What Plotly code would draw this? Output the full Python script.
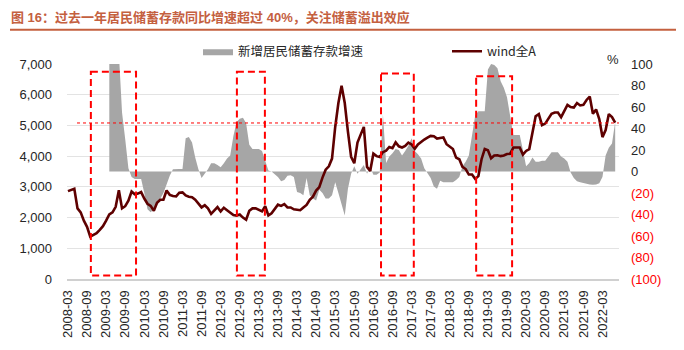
import plotly.graph_objects as go
import pandas as pd

# ---------------- data ----------------
months = [d.strftime("%Y-%m") for d in pd.date_range("2008-03-01", periods=173, freq="MS")]
tick_labels = months[::6]

wind_a = [
    2860, 2900, 2940, 2300, 2170, 1900, 1700, 1380, 1430, 1490,
    1600, 1720, 1900, 2100, 2170, 2350, 2890, 2300, 2370, 2550,
    2850, 2760, 2780, 2830, 2620, 2450, 2380, 2220, 2480, 2580,
    2580, 2880, 2740, 2700, 2690, 2810, 2820, 2720, 2680, 2660,
    2580, 2450, 2330, 2400, 2300, 2120, 2220, 2340, 2200, 2320,
    2240, 2170, 2080, 2065, 2100, 2000, 1930, 2220, 2300, 2300,
    2240, 2200, 2370, 2070, 2140, 2270, 2420, 2380, 2440, 2330,
    2330, 2270, 2250, 2240, 2330, 2410, 2580, 2680, 2880, 2990,
    3300, 3560, 3670, 3920, 4950, 5730, 6290, 5730, 4800, 3980,
    3770, 4440, 4700, 4950, 3650, 3520, 4080, 4000, 3970, 4130,
    4180, 4300, 4260, 4450, 4320, 4280, 4330, 4440, 4380, 4240,
    4380, 4470, 4540, 4600, 4660, 4650, 4570, 4590, 4610, 4390,
    4300, 4230, 3950, 3900, 3650, 3580, 3400, 3400, 3260, 3350,
    3900, 4230, 4190, 3930, 4020, 4030, 4000, 4020, 4070, 4080,
    4280, 4290, 4280, 4050, 4170, 4230, 4750, 5300, 5370, 5010,
    5060, 5210, 5380, 5420, 5420, 5270, 5480, 5670, 5600, 5580,
    5730, 5650, 5670, 5830, 5940, 5380, 5520, 5210, 4620, 4850,
    5370, 5270, 5090,
]

deposit_growth = [None] * 13 + [
    150, 140, 130, 110, 55, 30, 3, -5, -7, -7,
    -7, -20, -35, -38, -35, -31, -26, -20, -12, -4,
    2, 2.4, 2.4, 2.4, 31, 32, 27, 13, 2, -6,
    -2, 2, 7.7, 7.7, 6, 4, 7.7, 12, 15, 33,
    46, 49, 50, 45, 25, 21, 21, 21, 19, 10,
    1, 0, -2.6, -5, -9, -8, -4, -3.5, -5, -19,
    -20, -22, -6, -22, -25, -27, -17, -20, -25, -25,
    -22, -10, -20, -30, -41, -16, -2, 5, -2, 2,
    6, -2, 4, -3, -3, -1, 53, 8, 14, 17,
    21, 20, 15, 19, 24, 31, 19, 16, 12, 3,
    -1, -6, -14, -16, -8.5, -10, -10, -10, -10, -8,
    -5, 5, 9, 15, 33, 52, 56, 56, 56, 95,
    100, 99, 96, 84, 78, 69, 50, 34, 34, 34,
    20, 5, 8, 13, 9, 9, 10, 10, 14, 18,
    18, 18, 14, 12, 9, -1, -6, -9, -10, -11,
    -11.5, -12, -12.4, -12, -11, -5, 15, 22, 26, 46,
]

right_ticks = [100, 80, 60, 40, 20, 0, -20, -40, -60, -80, -100]
right_tick_text = ["100", "80", "60", "40", "20", "0",
                   "<span style='color:#FF0000'>(20)</span>",
                   "<span style='color:#FF0000'>(40)</span>",
                   "<span style='color:#FF0000'>(60)</span>",
                   "<span style='color:#FF0000'>(80)</span>",
                   "<span style='color:#FF0000'>(100)</span>"]
left_ticks = list(range(0, 7001, 1000))

title_text = "图 16：过去一年居民储蓄存款同比增速超过 40%，关注储蓄溢出效应"
series_area_name = "新增居民储蓄存款增速"
series_line_name = "wind全A"

# highlight windows (start index, end index in months)
windows = [(7.2, 21.4), (53.1, 61.9), (98.4, 108.7), (128.3, 139.6)]
window_tops = [6750, 6750, 6690, 6600]
ref_level = 5080

# ---------------- figure ----------------
FONT = "Liberation Sans, Arial, Noto Sans CJK SC, sans-serif"
TITLE_COLOR = "#C4603F"
W, H = 684, 350
L, R, T, B = 67, 65, 64, 60
pw, ph = W - L - R, H - T - B


def px_x(x):
    return (x - L) / pw


def px_y(y):
    return (H - B - y) / ph


fig = go.Figure()
# area on the base axis (y, right side %), line on overlaying axis (y2, left side)
fig.add_trace(go.Scatter(
    x=months, y=deposit_growth, name=series_area_name, yaxis="y",
    mode="lines", line=dict(width=0, color="#A6A6A6"),
    fill="tozeroy", fillcolor="#A6A6A6", legend="legend",
))
fig.add_trace(go.Scatter(
    x=months, y=wind_a, name=series_line_name, yaxis="y2",
    mode="lines", line=dict(width=2.6, color="#5E0000"), legend="legend2",
))

shapes = []
for (a, b), top in zip(windows, window_tops):
    shapes.append(dict(type="rect", xref="x", yref="y2", x0=a, x1=b, y0=top, y1=110,
                       line=dict(color="#FF0000", width=2, dash="7px,4px"),
                       fillcolor="rgba(0,0,0,0)", layer="above"))
shapes.append(dict(type="line", xref="paper", yref="y2", x0=px_x(77), x1=1,
                   y0=ref_level, y1=ref_level,
                   line=dict(color="#FF0000", width=1, dash="3px,3px"), layer="above"))
shapes.append(dict(type="line", xref="paper", yref="paper", x0=px_x(10), x1=px_x(676),
                   y0=px_y(28), y1=px_y(28),
                   line=dict(color=TITLE_COLOR, width=2)))

annotations = [
    dict(text="<b>" + title_text + "</b>", xref="paper", yref="paper",
         x=px_x(9), y=px_y(15), xanchor="left", yanchor="middle", showarrow=False,
         font=dict(family="Liberation Sans, Arial, Noto Sans CJK SC", size=13, color=TITLE_COLOR)),
    dict(text="%", xref="paper", yref="paper", x=px_x(613), y=px_y(59),
         xanchor="center", yanchor="middle", showarrow=False,
         font=dict(family=FONT, size=13, color="#262626")),
]

legend_common = dict(orientation="h", yanchor="middle", xanchor="left",
                     bgcolor="rgba(0,0,0,0)", borderwidth=0,
                     font=dict(family="Noto Sans CJK SC, Liberation Sans", size=12.5, color="#262626"))

fig.update_layout(
    width=W, height=H,
    margin=dict(l=L, r=R, t=T, b=B),
    paper_bgcolor="white", plot_bgcolor="white",
    font=dict(family=FONT, size=13, color="#262626"),
    showlegend=True,
    legend=dict(x=px_x(198), y=px_y(51), **legend_common),
    legend2=dict(x=px_x(447), y=px_y(51), **legend_common),
    xaxis=dict(
        type="category", categoryorder="array", categoryarray=months,
        range=[-0.3, 173.2], tickmode="array", tickvals=tick_labels, ticktext=tick_labels,
        tickangle=-90, showgrid=False, showline=True, linecolor="#D0D0D0", linewidth=2,
        ticks="", tickfont=dict(size=13, color="#262626"), ticklabelstandoff=4,
        zeroline=False,
    ),
    yaxis=dict(
        range=[-100, 100], side="right", tickmode="array",
        tickvals=right_ticks, ticktext=right_tick_text, showgrid=False,
        zeroline=False, showline=False, ticks="", ticklabelstandoff=11,
        tickfont=dict(size=13, color="#262626"),
    ),
    yaxis2=dict(
        range=[0, 7000], overlaying="y", side="left", tickmode="array", tickvals=left_ticks,
        tickformat=",", showgrid=True, gridcolor="#E3E3E3", gridwidth=1,
        zeroline=False, showline=False, ticks="", ticklabelstandoff=14,
        tickfont=dict(size=13, color="#262626"),
    ),
    shapes=shapes,
    annotations=annotations,
)

fig.write_html("out.html")
